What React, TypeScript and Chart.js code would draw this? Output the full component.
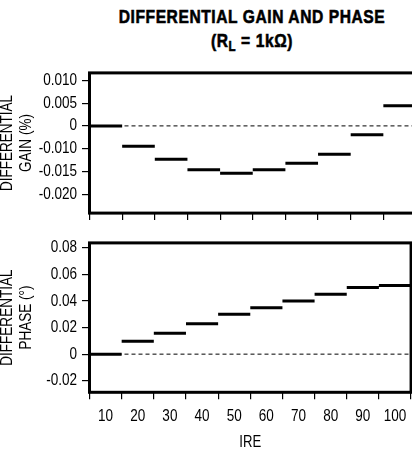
import React, { useEffect, useRef } from 'react';
import { Chart, registerables } from 'chart.js';

Chart.register(...registerables);

// ---- data ----
const IRE_LABELS = ['10', '20', '30', '40', '50', '60', '70', '80', '90', '100'];
const IRE_VALUES = [10, 20, 30, 40, 50, 60, 70, 80, 90, 100];
const GAIN_VALUES = [0, -0.0089, -0.0123, -0.0146, -0.0154, -0.0146, -0.0132, -0.0112, -0.0039, 0.0044];
const PHASE_VALUES = [0, 0.0097, 0.0158, 0.0228, 0.0301, 0.035, 0.0399, 0.045, 0.0501, 0.0516];
const GAIN_TICK_VALUES = [-0.02, -0.015, -0.01, 0, 0.005, 0.01];
const GAIN_TICK_LABELS = ['-0.020', '-0.015', '-0.010', '0', '0.005', '0.010'];
const PHASE_TICK_VALUES = [-0.02, 0, 0.02, 0.04, 0.06, 0.08];
const PHASE_TICK_LABELS = ['-0.02', '0', '0.02', '0.04', '0.06', '0.08'];

const FONT = "'Liberation Sans', Arial, sans-serif";
const CONDENSE = 0.82; // emulate a narrow (condensed) face

// The printed gain axis skips -0.005 (labels 0 then -0.010 one step apart).
function gainToAxis(v: number): number {
  if (v >= 0) return v;
  if (v >= -0.01) return v / 2;
  return v + 0.005;
}
const identity = (v: number) => v;

function buildSegments(values: number[], toAxis: (v: number) => number) {
  const pts: { x: number; y: number | null }[] = [];
  values.forEach((v, i) => {
    const c = IRE_VALUES[i];
    pts.push({ x: c - 5, y: toAxis(v) }, { x: c + 5, y: toAxis(v) }, { x: c + 5, y: null });
  });
  return pts;
}

const condensePlugin = {
  id: 'condense',
  beforeInit(chart: any) {
    const ctx = chart.ctx;
    const orig = ctx.fillText.bind(ctx);
    ctx.fillText = (text: string, x: number, y: number, maxWidth?: number) => {
      const w = ctx.measureText(text).width * CONDENSE;
      const mw = maxWidth !== undefined && maxWidth !== null ? Math.min(maxWidth, w) : w;
      if (w > 0) orig(text, x, y, mw);
    };
  },
};

const framePlugin = {
  id: 'frame',
  afterDatasetsDraw(chart: any) {
    const { ctx, chartArea } = chart;
    const { left, right, top, bottom } = chartArea;
    ctx.save();
    ctx.strokeStyle = '#000';
    ctx.lineWidth = 3;
    ctx.strokeRect(left, top, right - left, bottom - top);
    ctx.restore();
  },
};

interface PanelProps {
  values: number[];
  toAxis: (v: number) => number;
  tickValues: number[];
  tickLabels: string[];
  yMin: number;
  yMax: number;
  yTitle: string[];
  showX: boolean;
  xHeight: number;
  width: number;
  height: number;
  left: number;
  top: number;
}

function Panel(p: PanelProps) {
  const ref = useRef<HTMLCanvasElement>(null);
  useEffect(() => {
    if (!ref.current) return;
    const tickPositions = p.tickValues.map(p.toAxis);
    const chart = new Chart(ref.current, {
      type: 'line',
      data: {
        datasets: [
          {
            data: buildSegments(p.values, p.toAxis),
            borderColor: '#000',
            borderWidth: 3,
            pointRadius: 0,
            spanGaps: false,
            borderCapStyle: 'butt',
            xAxisID: 'x',
            yAxisID: 'y',
            order: 0,
          },
          {
            data: [
              { x: 5, y: 0 },
              { x: 105, y: 0 },
            ],
            borderColor: '#000',
            borderWidth: 1,
            borderDash: [4, 3],
            pointRadius: 0,
            xAxisID: 'x',
            yAxisID: 'y',
            order: 1,
          },
        ],
      } as any,
      options: {
        responsive: false,
        maintainAspectRatio: false,
        animation: false,
        devicePixelRatio: 1,
        layout: { padding: { top: 10.3, left: 0, right: 0, bottom: 0 } },
        plugins: { legend: { display: false }, tooltip: { enabled: false }, title: { display: false } },
        scales: {
          x: { type: 'linear', min: 5, max: 105, display: false },
          xc: {
            type: 'category',
            labels: IRE_LABELS,
            position: 'bottom',
            offset: true,
            grid: {
              offset: true,
              drawOnChartArea: false,
              drawTicks: true,
              tickLength: 7,
              color: '#000',
              lineWidth: 1.2,
            },
            border: { display: false },
            ticks: {
              display: p.showX,
              color: '#000',
              font: { family: FONT, size: 16.5 },
              padding: 7,
              maxRotation: 0,
              autoSkip: false,
            },
            title: {
              display: p.showX,
              text: 'IRE',
              color: '#000',
              font: { family: FONT, size: 16 },
              padding: { top: 0, bottom: -2 },
            },
            afterFit: (s: any) => {
              s.height = p.xHeight;
            },
          },
          y: {
            type: 'linear',
            position: 'left',
            min: p.yMin,
            max: p.yMax,
            afterBuildTicks: (s: any) => {
              s.ticks = tickPositions.map((v) => ({ value: v }));
            },
            grid: {
              drawOnChartArea: false,
              drawTicks: true,
              tickLength: 7.5,
              color: '#000',
              lineWidth: 1.2,
            },
            border: { display: false },
            ticks: {
              color: '#000',
              font: { family: FONT, size: 16.5 },
              padding: 5,
              callback: (_v: any, i: number) => p.tickLabels[i],
            },
            title: {
              display: true,
              text: p.yTitle,
              color: '#000',
              font: { family: FONT, size: 16.5, lineHeight: 1.18 },
              padding: { top: 1.3, bottom: 0 },
            },
            afterFit: (s: any) => {
              s.width = 93.5;
            },
          },
        },
      } as any,
      plugins: [condensePlugin, framePlugin],
    });
    return () => chart.destroy();
  }, []);
  return (
    <canvas
      ref={ref}
      width={p.width}
      height={p.height}
      style={{ position: 'absolute', left: p.left, top: p.top, width: p.width, height: p.height }}
    />
  );
}

export default function App() {
  return (
    <div
      style={{
        position: 'fixed',
        left: 0,
        top: 0,
        width: 412,
        height: 450,
        overflow: 'hidden',
        background: '#fff',
      }}
    >
      <div
        style={{
          position: 'absolute',
          left: 52,
          top: 5,
          width: 400,
          textAlign: 'center',
          fontFamily: FONT,
          fontWeight: 'bold',
          fontSize: 19,
          lineHeight: '24px',
          letterSpacing: '0.7px',
          color: '#000',
          whiteSpace: 'nowrap',
          transform: `scaleX(${CONDENSE})`,
          transformOrigin: '200px 0',
          WebkitTextStroke: '0.6px #000',
        }}
      >
        <div>DIFFERENTIAL GAIN AND PHASE</div>
        <div>
          (R<span style={{ fontSize: 14, position: 'relative', top: 4 }}>L</span> = 1kΩ)
        </div>
      </div>
      <Panel
        values={GAIN_VALUES}
        toAxis={gainToAxis}
        tickValues={GAIN_TICK_VALUES}
        tickLabels={GAIN_TICK_LABELS}
        yMin={-0.01914}
        yMax={0.01163}
        yTitle={['DIFFERENTIAL', 'GAIN (%)']}
        showX={false}
        xHeight={12.3}
        width={420}
        height={170}
        left={-4}
        top={58}
      />
      <Panel
        values={PHASE_VALUES}
        toAxis={identity}
        tickValues={PHASE_TICK_VALUES}
        tickLabels={PHASE_TICK_LABELS}
        yMin={-0.0287}
        yMax={0.0837}
        yTitle={['DIFFERENTIAL', 'PHASE (°)']}
        showX={true}
        xHeight={57.7}
        width={420}
        height={222}
        left={-4}
        top={228}
      />
    </div>
  );
}
